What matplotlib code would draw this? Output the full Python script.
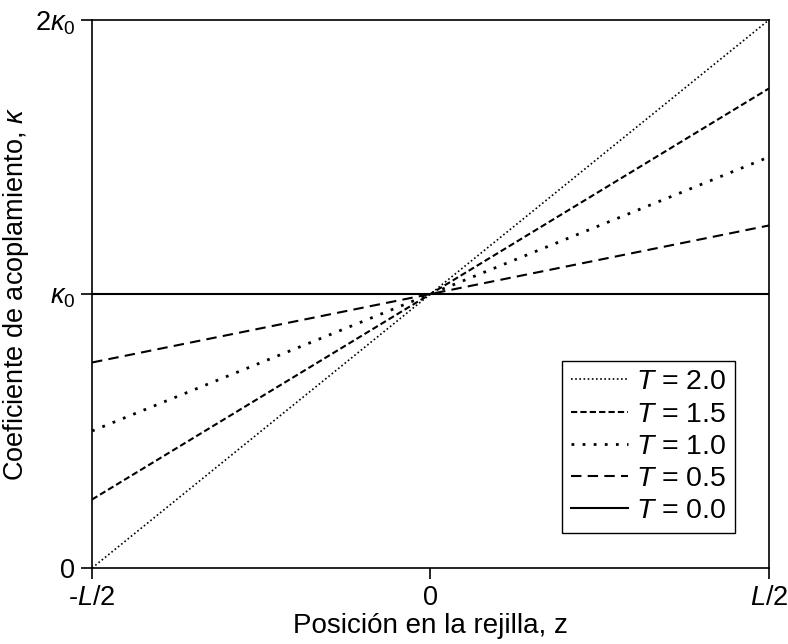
import matplotlib
matplotlib.use("Agg")
import matplotlib.pyplot as plt

plt.rcParams["font.family"] = ["Liberation Sans", "DejaVu Sans"]
plt.rcParams["mathtext.fontset"] = "custom"
plt.rcParams["mathtext.rm"] = "Liberation Sans"
plt.rcParams["mathtext.it"] = "Liberation Sans:italic"

# Position along the grating (units of L) and coupling coefficient (units of kappa0)
z_ends = [-0.5, 0.5]
T_values = [2.0, 1.5, 1.0, 0.5, 0.0]
kappa_left = [0.0, 0.25, 0.5, 0.75, 1.0]
kappa_right = [2.0, 1.75, 1.5, 1.25, 1.0]

x_ticks = [-0.5, 0.0, 0.5]
x_tick_labels = [r"-$\mathit{L}$/2", "0", r"$\mathit{L}$/2"]
y_ticks = [0.0, 1.0, 2.0]
y_tick_labels = ["0", r"$\mathit{\kappa}_0$", r"2$\mathit{\kappa}_0$"]

# line styles: (linewidth, dash pattern)
styles = [
    (1.2, (0, (1, 1.5))),
    (1.5, (0, (3, 1.5))),
    (2.0, (0, (1, 3))),
    (1.5, (0, (5, 3))),
    (1.5, "-"),
]

fig = plt.figure(figsize=(7.88, 6.44), dpi=100)
ax = fig.add_axes([0.1168, 0.118, 0.859, 0.851])

for T, kl, kr, (lw, ls) in zip(T_values, kappa_left, kappa_right, styles):
    ax.plot(z_ends, [kl, kr], color="black", lw=lw, linestyle=ls,
            label=r"$\mathit{T}$ = %.1f" % T)

ax.set_xlim(-0.5, 0.5)
ax.set_ylim(0, 2)
ax.set_xticks(x_ticks)
ax.set_xticklabels(x_tick_labels)
ax.set_yticks(y_ticks)
ax.set_yticklabels(y_tick_labels)
ax.tick_params(direction="out", length=8, width=1.2, labelsize=19.5, pad=4)

for sp in ax.spines.values():
    sp.set_linewidth(1.2)

ax.set_xlabel("Posición en la rejilla, z", fontsize=20, labelpad=2)
ax.set_ylabel(r"Coeficiente de acoplamiento, $\mathit{\kappa}$", fontsize=19.5, labelpad=3)

leg = ax.legend(loc="lower right", bbox_to_anchor=(0.95, 0.064), borderaxespad=0,
                fontsize=20.5, handlelength=2.0, handletextpad=0.3,
                labelspacing=0.22, borderpad=0.3, fancybox=False, framealpha=1)
leg.get_frame().set_edgecolor("black")
leg.get_frame().set_linewidth(1.0)

fig.savefig("out.png", dpi=100)
